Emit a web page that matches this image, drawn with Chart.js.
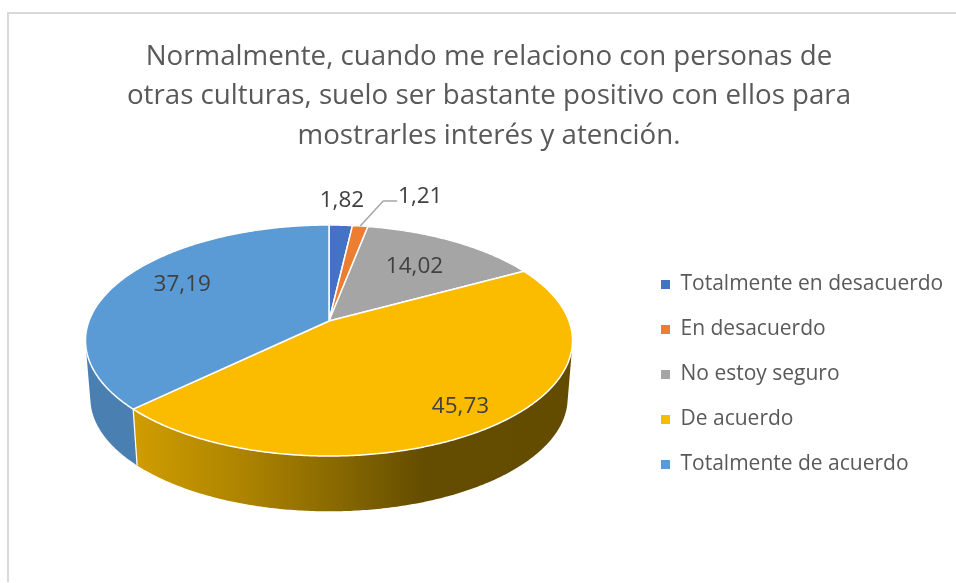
<!DOCTYPE html>
<html lang="es">
<head>
<meta charset="utf-8">
<title>Gráfico circular</title>
<script src="https://cdn.jsdelivr.net/npm/chart.js@4/dist/chart.umd.min.js"></script>
<style>
html,body{margin:0;padding:0;background:#fff;overflow:hidden}
#frame{position:absolute;left:7px;top:12px;width:949px;height:570px;border-top:2px solid #d9d9d9;border-left:2px solid #d9d9d9;box-sizing:border-box}
canvas{position:absolute;left:0;top:0}
</style>
</head>
<body>
<div id="frame"></div>
<canvas id="c" width="956" height="583"></canvas>
<script>
const categories = ["Totalmente en desacuerdo","En desacuerdo","No estoy seguro","De acuerdo","Totalmente de acuerdo"];
const values = [1.82,1.21,14.02,45.73,37.19];
const valueLabels = ["1,82","1,21","14,02","45,73","37,19"];
const colors = ["#4472C4","#ED7D31","#A5A5A5","#FBBC00","#5B9BD5"];
const titleLines = [
  "Normalmente, cuando me relaciono con personas de",
  "otras culturas, suelo ser bastante positivo con ellos para",
  "mostrarles interés y atención."
];

const FONT = '"Open Sans", sans-serif';
const view = {cx:329, cy:321, rx:240, ry:112.2, k:0.169, wallScale:0.98, wallCy:379};
// [radial position, dx, dy] of each value label relative to its slice
const labelPlace = [[1.33,-2,1],[1,60,-29],[0.7,-5,3],[0.85,-5,-1],[0.7,1,-7]];

function project(angle, r){
  const x = r*Math.cos(angle), y = r*Math.sin(angle), w = 1 - view.k*y;
  return [view.cx + view.rx*x/w, view.cy + view.ry*y/w];
}
function lower(p){
  return [view.cx + (p[0]-view.cx)*view.wallScale, view.wallCy + (p[1]-view.cy)*view.wallScale];
}
function arcPoints(a0, a1){
  const n = Math.max(2, Math.ceil((a1-a0)/0.01)), pts = [];
  for(let i=0;i<=n;i++) pts.push(project(a0+(a1-a0)*i/n, 1));
  return pts;
}
function wallFill(ctx, i){
  if(i===3){
    const g = ctx.createLinearGradient(135,0,572,0);
    g.addColorStop(0,"#CF9D00");
    g.addColorStop(0.25,"#AD8300");
    g.addColorStop(0.45,"#8A6A00");
    g.addColorStop(0.66,"#644D00");
    g.addColorStop(1,"#634C00");
    return g;
  }
  if(i===4) return "#4A7FB2";
  return colors[i];
}
const pie3d = {
  id:"pie3d",
  afterLayout(chart){
    const lg = chart.legend;
    lg.left = 637; lg.right = 956; lg.top = 216; lg.bottom = 533;
  },
  beforeDatasetDraw(chart, args){
    const ctx = chart.ctx, arcs = chart.getDatasetMeta(args.index).data;
    ctx.save();
    ctx.lineJoin = "round";
    // side wall: narrow strips with one winding direction, filled as a single path
    arcs.forEach((arc,i)=>{
      const top = arcPoints(arc.startAngle, arc.endAngle);
      ctx.beginPath();
      for(let j=0;j<top.length-1;j++){
        let q = [top[j], top[j+1], lower(top[j+1]), lower(top[j])];
        let area = 0;
        q.forEach((p,m)=>{ const n = q[(m+1)%4]; area += p[0]*n[1]-n[0]*p[1]; });
        if(area<0) q = q.reverse();
        q.forEach((p,m)=> m?ctx.lineTo(p[0],p[1]):ctx.moveTo(p[0],p[1]));
        ctx.closePath();
      }
      ctx.fillStyle = wallFill(ctx,i);
      ctx.fill("nonzero");
    });
    // seam between the two visible walls
    const seamTop = project(arcs[3].endAngle,1), seamBottom = lower(seamTop);
    ctx.beginPath();
    ctx.moveTo(seamTop[0],seamTop[1]);
    ctx.lineTo(seamBottom[0],seamBottom[1]);
    ctx.strokeStyle = "#fff"; ctx.lineWidth = 1.2; ctx.stroke();
    // top face
    arcs.forEach((arc,i)=>{
      ctx.beginPath();
      ctx.moveTo(view.cx,view.cy);
      arcPoints(arc.startAngle, arc.endAngle).forEach(p=>ctx.lineTo(p[0],p[1]));
      ctx.closePath();
      ctx.fillStyle = colors[i];
      ctx.fill();
      ctx.strokeStyle = "#fff"; ctx.lineWidth = 1.5; ctx.stroke();
    });
    // leader line and value labels
    ctx.font = "22.5px "+FONT;
    ctx.textAlign = "center"; ctx.textBaseline = "middle";
    arcs.forEach((arc,i)=>{
      const mid = (arc.startAngle+arc.endAngle)/2, pl = labelPlace[i], p = project(mid,pl[0]);
      if(i===1){
        ctx.beginPath();
        ctx.moveTo(p[0],p[1]);
        ctx.lineTo(p[0]+23,p[1]-25);
        ctx.lineTo(p[0]+37,p[1]-25);
        ctx.strokeStyle = "#A6A6A6"; ctx.lineWidth = 1.5; ctx.stroke();
      }
      ctx.fillStyle = "#404040";
      ctx.fillText(valueLabels[i], p[0]+pl[1], p[1]+pl[2]);
    });
    ctx.restore();
    return false;
  }
};
new Chart(document.getElementById("c"),{
  type:"pie",
  data:{labels:categories,datasets:[{data:values,backgroundColor:colors,borderWidth:0}]},
  plugins:[pie3d],
  options:{
    responsive:false,
    animation:false,
    events:[],
    layout:{padding:{left:22,right:0,top:0,bottom:0}},
    plugins:{
      tooltip:{enabled:false},
      title:{display:true,text:titleLines,color:"#595959",align:"center",
        font:{family:FONT,size:27.7,weight:"normal",lineHeight:1.426},
        padding:{top:37,bottom:10}},
      legend:{position:"right",
        labels:{color:"#595959",font:{family:FONT,size:21},boxWidth:9,boxHeight:9,padding:24}}
    }
  }
});
</script>
</body>
</html>
